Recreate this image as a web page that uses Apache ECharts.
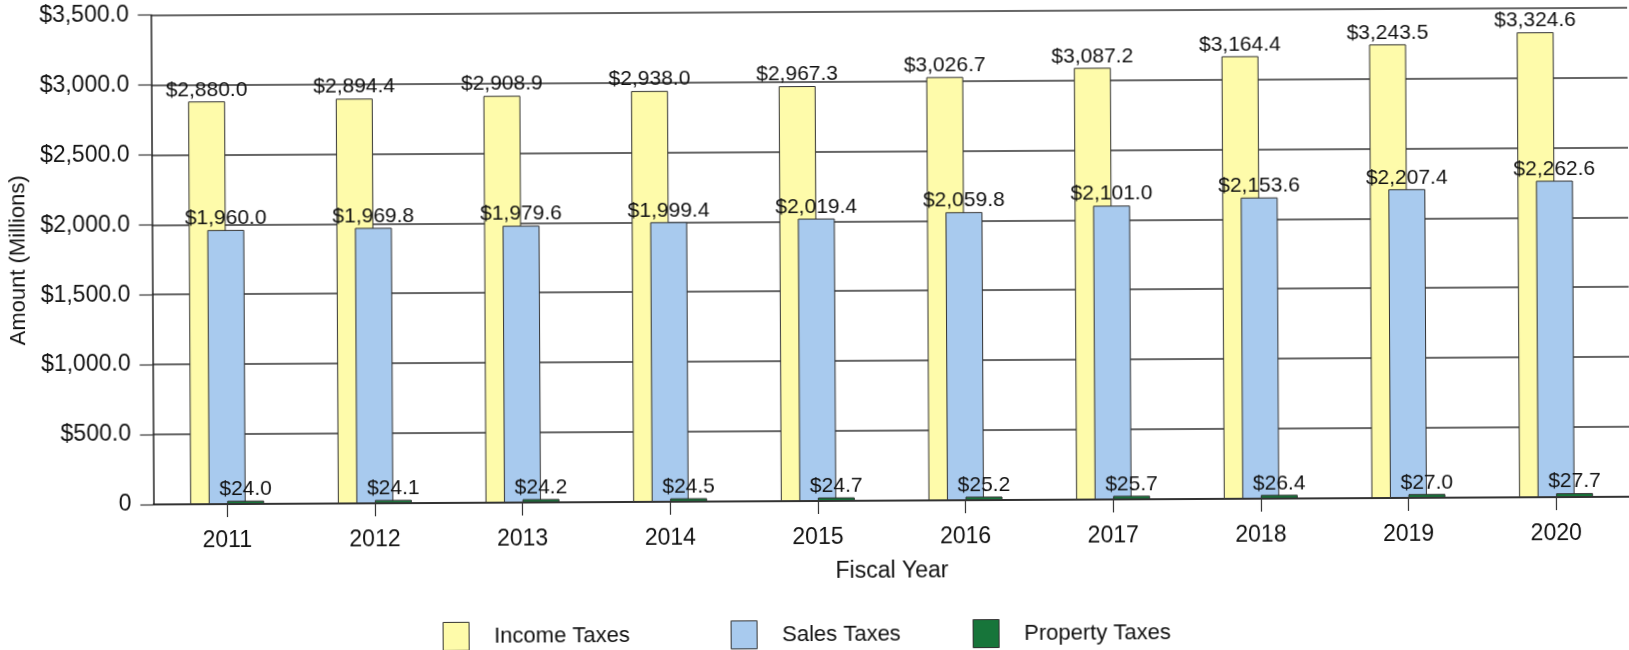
<!DOCTYPE html>
<html>
<head>
<meta charset="utf-8">
<script src="https://cdn.jsdelivr.net/npm/echarts@6/dist/echarts.min.js"></script>
<style>
html,body{margin:0;padding:0;background:#fff;overflow:hidden;}
#chart{width:1629px;height:650px;transform:rotate(-0.3deg);transform-origin:50% 50%;}
</style>
</head>
<body>
<div id="chart"></div>
<script>
const years = ['2011','2012','2013','2014','2015','2016','2017','2018','2019','2020'];
const incomeTaxes = [2880.0, 2894.4, 2908.9, 2938.0, 2967.3, 3026.7, 3087.2, 3164.4, 3243.5, 3324.6];
const salesTaxes = [1960.0, 1969.8, 1979.6, 1999.4, 2019.4, 2059.8, 2101.0, 2153.6, 2207.4, 2262.6];
const propertyTaxes = [24.0, 24.1, 24.2, 24.5, 24.7, 25.2, 25.7, 26.4, 27.0, 27.7];
const seriesNames = ['Income Taxes', 'Sales Taxes', 'Property Taxes'];
const yMin = 0, yMax = 3500, yStep = 500;

const FONT = "'Liberation Sans', Arial, sans-serif";
const TXT = '#111';
const money = v => '$' + Number(v).toLocaleString('en-US', {minimumFractionDigits: 1, maximumFractionDigits: 1});

function barSeries(name, data, color) {
  return {
    name: name,
    type: 'bar',
    data: data,
    barWidth: 37,
    barGap: '-50%',
    itemStyle: {color: color, borderColor: '#333', borderWidth: 1},
    label: {
      show: true, position: 'top', distance: 1,
      color: TXT, fontSize: 21, fontFamily: FONT,
      formatter: p => money(p.value)
    }
  };
}

function legendAt(name, left) {
  return {
    data: [name], left: left, top: 615, orient: 'horizontal',
    icon: 'rect',
    itemWidth: 26, itemHeight: 28,
    itemStyle: {borderColor: '#333', borderWidth: 1},
    textStyle: {fontSize: 22, color: TXT, fontFamily: FONT, padding: [0, 0, 0, 20]},
    selectedMode: false
  };
}

const chart = echarts.init(document.getElementById('chart'), null, {renderer: 'canvas'});
chart.setOption({
  animation: false,
  backgroundColor: '#fff',
  textStyle: {fontFamily: FONT},
  grid: {left: 150, right: -4, top: 11, bottom: 149, containLabel: false},
  legend: [
    legendAt(seriesNames[0], 436),
    legendAt(seriesNames[1], 724),
    legendAt(seriesNames[2], 966)
  ],
  xAxis: {
    type: 'category',
    data: years,
    name: 'Fiscal Year',
    nameLocation: 'middle',
    nameGap: 59,
    nameTextStyle: {fontSize: 23, color: TXT, fontFamily: FONT},
    axisLine: {show: true, lineStyle: {color: '#222', width: 1.5}},
    axisTick: {show: true, alignWithLabel: true, length: 13, lineStyle: {color: '#333', width: 1.2}},
    axisLabel: {fontSize: 23, color: TXT, margin: 25, fontFamily: FONT},
    splitLine: {show: false}
  },
  yAxis: {
    type: 'value',
    min: yMin, max: yMax, interval: yStep,
    name: 'Amount (Millions)',
    nameLocation: 'middle',
    nameGap: 118,
    nameTextStyle: {fontSize: 22, color: TXT, fontFamily: FONT},
    axisLine: {show: true, lineStyle: {color: '#222', width: 1.5}},
    axisTick: {show: true, inside: false, length: 13, lineStyle: {color: '#333', width: 1.2}},
    axisLabel: {fontSize: 23, color: TXT, margin: 22, fontFamily: FONT,
      formatter: v => v === 0 ? '0' : money(v)},
    splitLine: {show: true, lineStyle: {color: '#333', width: 1.5}}
  },
  series: [
    barSeries(seriesNames[0], incomeTaxes, '#FEFBAA'),
    barSeries(seriesNames[1], salesTaxes, '#A8CAEE'),
    barSeries(seriesNames[2], propertyTaxes, '#17753A')
  ]
});
</script>
</body>
</html>
